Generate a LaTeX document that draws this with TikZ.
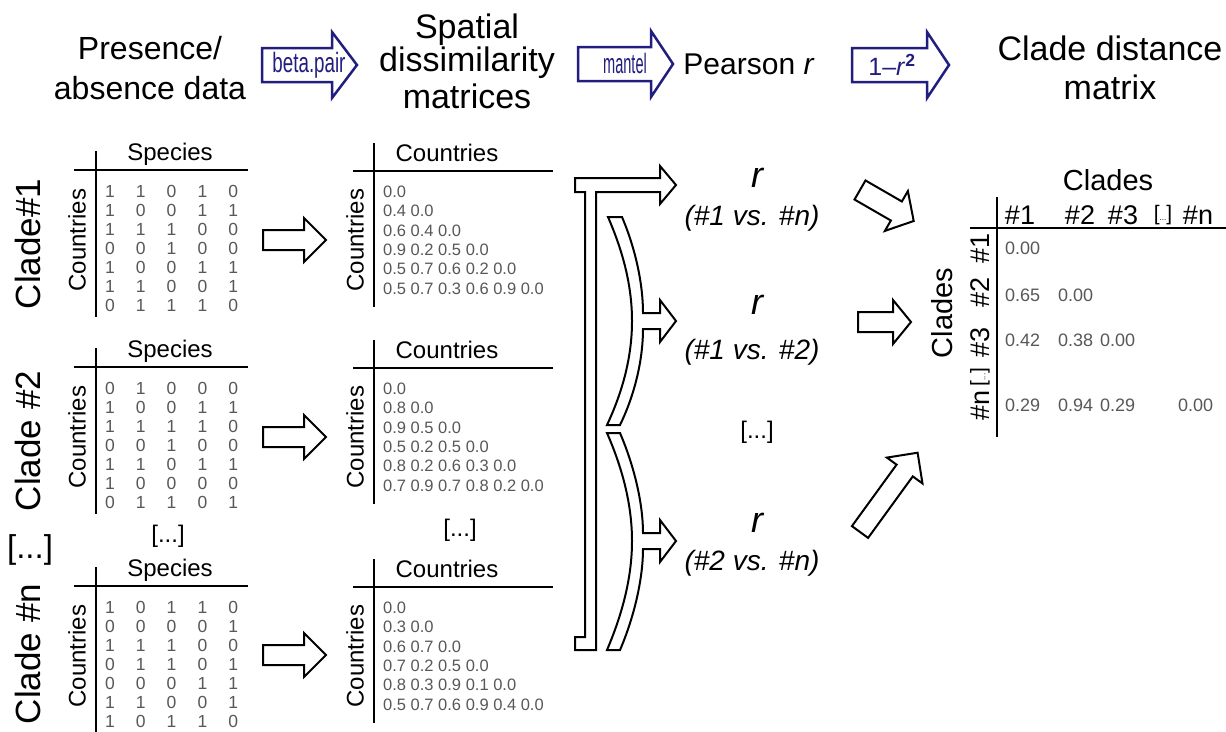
\documentclass[tikz,border=0pt]{standalone}
\usepackage{fontspec}
\setmainfont{Liberation Sans}
\usepackage{graphicx}

\definecolor{navy}{RGB}{34,30,128}
\definecolor{numgray}{RGB}{88,88,88}

\tikzset{
  heading/.style={font=\fontsize{34}{38}\selectfont, inner sep=0pt},
  cladelabel/.style={font=\fontsize{35}{40}\selectfont, rotate=90, inner sep=0pt},
  axislabel/.style={font=\fontsize{24}{28}\selectfont, inner sep=0pt},
  cell/.style={font=\fontsize{17.5}{20}\selectfont, text=numgray, inner sep=0pt},
  rowcell/.style={font=\fontsize{16.5}{20}\selectfont, text=numgray, inner sep=0pt, anchor=west},
  dcell/.style={font=\fontsize{18}{20}\selectfont, text=numgray, inner sep=0pt, anchor=west},
  cladehead/.style={font=\fontsize{27}{30}\selectfont, inner sep=0pt},
  cladetitle/.style={font=\fontsize{29}{32}\selectfont, inner sep=0pt},
  rlabel/.style={font=\fontsize{36}{40}\selectfont\itshape, inner sep=0pt},
  pairlabel/.style={font=\fontsize{28}{32}\selectfont\itshape, inner sep=0pt},
  axis/.style={line width=1.5pt},
  blockarrow/.style={draw=black, line width=2pt, fill=white, line join=miter},
  navyarrow/.style={draw=navy, line width=2.5pt, fill=white, line join=miter},
  % block arrow: length / half shaft / half head / head length
  pics/barrow/.style args={#1/#2/#3/#4}{code={
    \path[pic actions] (0,-#2) -- ({#1-#4},-#2) -- ({#1-#4},-#3) -- (#1,0)
      -- ({#1-#4},#3) -- ({#1-#4},#2) -- (0,#2) -- cycle;
  }},
}

% presence/absence table: id, y of the header rule, rows
\newcommand\presencematrix[3]{%
  \node[axislabel] (#1-head) at (170,#2-16) {Species};
  \node[axislabel, rotate=90] (#1-side) at (77,#2+70) {Countries};
  \coordinate (#1-vt) at (96,#2-19);
  \coordinate (#1-vb) at (96,#2+147);
  \coordinate (#1-hl) at (74,#2);
  \coordinate (#1-hr) at (248,#2);
  \draw[axis] (#1-vt) -- (#1-vb);
  \draw[axis] (#1-hl) -- (#1-hr);
  \foreach \row [count=\i] in {#3} {
    \foreach \v [count=\j] in \row {
      \node[cell] (#1-\i-\j) at ({110+30.8*(\j-1)},{#2+21.5+19*(\i-1)}) {\v};
    }
  }
}

% lower-triangular dissimilarity table: id, y of the header rule, rows
\newcommand\dissmatrix[3]{%
  \node[axislabel] (#1-head) at (447,#2-18) {Countries};
  \node[axislabel, rotate=90] (#1-side) at (355,#2+69) {Countries};
  \coordinate (#1-vt) at (374,#2-28);
  \coordinate (#1-vb) at (374,#2+136);
  \coordinate (#1-hl) at (353,#2);
  \coordinate (#1-hr) at (553,#2);
  \draw[axis] (#1-vt) -- (#1-vb);
  \draw[axis] (#1-hl) -- (#1-hr);
  \foreach \row [count=\i] in {#3} {
    \node[rowcell] (#1-\i) at (383,{#2+21+19.3*(\i-1)}) {\row};
  }
}

\newcommand\smallellipsis{{\fontsize{21}{21}\selectfont[}{\fontsize{8}{8}\selectfont...}{\fontsize{21}{21}\selectfont]}}

\begin{document}
\begin{tikzpicture}[x=1pt, y=-1pt]
  \fill[white] (0,0) rectangle (1226,731);
  \useasboundingbox (0,0) rectangle (1226,731);

  % ---------- column headings ----------
  \node[heading, font=\fontsize{32}{36}\selectfont] (h1a) at (150,48) {Presence/};
  \node[heading, font=\fontsize{32}{36}\selectfont] (h1b) at (150,88) {absence data};
  \node[heading] (h2a) at (467,30) {Spatial};
  \node[heading] (h2b) at (467,63) {dissimilarity};
  \node[heading] (h2c) at (467,96) {matrices};
  \node[heading, font=\fontsize{30}{34}\selectfont] (h3) at (749,64) {Pearson \textit{r}};
  \node[heading] (h4a) at (1110,48) {Clade distance};
  \node[heading] (h4b) at (1110,87) {matrix};

  % ---------- method arrows ----------
  \pic[navyarrow] at (262,65) {barrow=95/17/33/25};
  \node[text=navy, inner sep=0pt] (m1) at (309,65)
    {\scalebox{0.67}[1]{\fontsize{28}{28}\selectfont beta.pair}};
  \pic[navyarrow] at (578,64) {barrow=95/17/33/22};
  \node[text=navy, inner sep=0pt] (m2) at (625,63)
    {\scalebox{0.52}[1]{\fontsize{28}{28}\selectfont mantel}};
  \pic[navyarrow] at (852,65) {barrow=97/17/33/22};
  \node[text=navy, inner sep=0pt] (m3) at (892,65)
    {\fontsize{25}{25}\selectfont 1–\textit{r}\textsuperscript{\textbf{2}}};

  % ---------- clade labels ----------
  \node[cladelabel] (c1) at (28,244) {Clade\#1};
  \node[cladelabel] (c2) at (28,441) {Clade \#2};
  \node[font=\fontsize{33}{36}\selectfont, inner sep=0pt] (cdots) at (30,550) {[...]};
  \node[cladelabel] (cn) at (28,654) {Clade \#n};

  % ---------- presence/absence data ----------
  \presencematrix{pa1}{170}{{1,1,0,1,0},{1,0,0,1,1},{1,1,1,0,0},{0,0,1,0,0},{1,0,0,1,1},{1,1,0,0,1},{0,1,1,1,0}}
  \presencematrix{pa2}{367}{{0,1,0,0,0},{1,0,0,1,1},{1,1,1,1,0},{0,0,1,0,0},{1,1,0,1,1},{1,0,0,0,0},{0,1,1,0,1}}
  \presencematrix{pan}{586}{{1,0,1,1,0},{0,0,0,0,1},{1,1,1,0,0},{0,1,1,0,1},{0,0,0,1,1},{1,1,0,0,1},{1,0,1,1,0}}
  \node[axislabel] (padots) at (168,536) {[...]};

  % ---------- dissimilarity matrices ----------
  \dissmatrix{dm1}{171}{0.0,0.4 0.0,0.6 0.4 0.0,0.9 0.2 0.5 0.0,0.5 0.7 0.6 0.2 0.0,0.5 0.7 0.3 0.6 0.9 0.0}
  \dissmatrix{dm2}{368}{0.0,0.8 0.0,0.9 0.5 0.0,0.5 0.2 0.5 0.0,0.8 0.2 0.6 0.3 0.0,0.7 0.9 0.7 0.8 0.2 0.0}
  \dissmatrix{dmn}{587}{0.0,0.3 0.0,0.6 0.7 0.0,0.7 0.2 0.5 0.0,0.8 0.3 0.9 0.1 0.0,0.5 0.7 0.6 0.9 0.4 0.0}
  \node[axislabel] (dmdots) at (460,530) {[...]};

  % ---------- arrows between the tables ----------
  \pic[blockarrow] at (263,240) {barrow=63/10/22/22};
  \pic[blockarrow] at (263,437) {barrow=63/10/22/22};
  \pic[blockarrow] at (263,655) {barrow=63/10/22/22};

  % ---------- pairwise comparison brackets ----------
  \draw[blockarrow] (575,178) -- (660,178) -- (660,166) -- (676,185) -- (660,204)
    -- (660,192) -- (596,192) -- (596,650) -- (575,650) -- (575,637) -- (585,637)
    -- (585,192) -- (575,192) -- cycle;
  \draw[blockarrow] (608,217) -- (622,217) .. controls (636,250) and (643,285) .. (643,313)
    -- (660,313) -- (660,300) -- (676,321) -- (660,342) -- (660,329) -- (643,329)
    .. controls (643,357) and (636,392) .. (620,425) -- (607,425)
    .. controls (621,395) and (632,360) .. (632,321)
    .. controls (632,282) and (621,247) .. (608,217) -- cycle;
  \draw[blockarrow] (607,433) -- (620,433) .. controls (635,468) and (643,505) .. (643,533)
    -- (660,533) -- (660,520) -- (676,541) -- (660,562) -- (660,549) -- (643,549)
    .. controls (643,577) and (635,615) .. (620,650) -- (607,650)
    .. controls (621,617) and (632,580) .. (632,541)
    .. controls (632,502) and (621,465) .. (607,433) -- cycle;

  % ---------- Pearson r values ----------
  \node[rlabel] (r1) at (757,178) {r};
  \node[pairlabel] (p1) at (752,218) {(\#1 vs. \#n)};
  \node[rlabel] (r2) at (757,305) {r};
  \node[pairlabel] (p2) at (752,352) {(\#1 vs. \#2)};
  \node[axislabel] (rdots) at (757,432) {[...]};
  \node[rlabel] (r3) at (757,523) {r};
  \node[pairlabel] (p3) at (752,563) {(\#2 vs. \#n)};

  % ---------- arrows into the clade matrix ----------
  \pic[blockarrow, rotate=-30] at (860,190) {barrow=62/11/23/20};
  \pic[blockarrow] at (858,322) {barrow=53/10/22/18};
  \pic[blockarrow, rotate=54] at (860,532) {barrow=98/10/22/22};

  % ---------- clade distance matrix ----------
  \node[cladetitle] (ct) at (1108,180) {Clades};
  \coordinate (cm-vt) at (997,197);
  \coordinate (cm-vb) at (997,437);
  \coordinate (cm-hl) at (970,228);
  \coordinate (cm-hr) at (1226,228);
  \draw[axis] (cm-vt) -- (cm-vb);
  \draw[axis] (cm-hl) -- (cm-hr);
  \node[cladehead] (ch1) at (1020,215) {\#1};
  \node[cladehead] (ch2) at (1080,215) {\#2};
  \node[cladehead] (ch3) at (1123,215) {\#3};
  \node[inner sep=0pt] (chd) at (1163,215) {\smallellipsis};
  \node[cladehead] (chn) at (1198,215) {\#n};
  \node[cladetitle, rotate=90] (cs) at (942,313) {Clades};
  \node[cladehead, rotate=90] (cr1) at (980,248) {\#1};
  \node[cladehead, rotate=90] (cr2) at (980,292) {\#2};
  \node[cladehead, rotate=90] (cr3) at (980,342) {\#3};
  \node[inner sep=0pt, rotate=90] (crd) at (980,377) {\smallellipsis};
  \node[cladehead, rotate=90] (crn) at (980,405) {\#n};
  \node[dcell] (d11) at (1005,248) {0.00};
  \node[dcell] (d21) at (1005,295) {0.65};
  \node[dcell] (d22) at (1058,295) {0.00};
  \node[dcell] (d31) at (1005,340) {0.42};
  \node[dcell] (d32) at (1058,340) {0.38};
  \node[dcell] (d33) at (1100,340) {0.00};
  \node[dcell] (dn1) at (1005,405) {0.29};
  \node[dcell] (dn2) at (1058,405) {0.94};
  \node[dcell] (dn3) at (1100,405) {0.29};
  \node[dcell] (dnn) at (1178,405) {0.00};
\end{tikzpicture}
\end{document}
